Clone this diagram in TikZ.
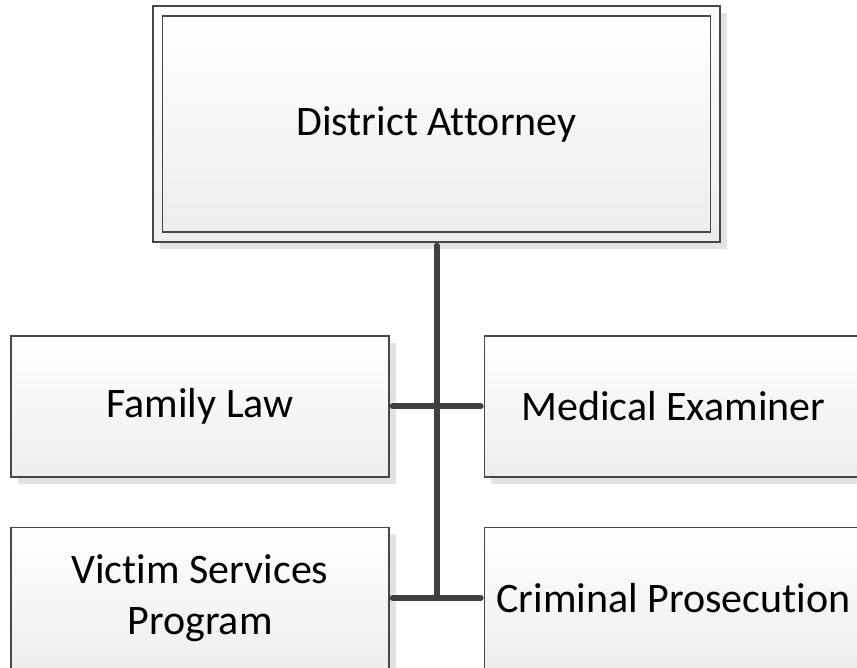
\documentclass[tikz,border=0pt]{standalone}
\usepackage{fontspec}
\setmainfont{Carlito}[Ligatures=CommonOff]
\usepackage{xcolor}
\usepackage{tikz}
\usetikzlibrary{positioning, shadows}
\definecolor{linkgray}{HTML}{404040}

\begin{document}
\begin{tikzpicture}[
    x=1pt, y=1pt,
    box/.style={draw=black!72, line width=1.4pt, top color=white, bottom color=black!7, minimum width=378pt, minimum height=141pt, inner sep=0pt, align=center, text=black, font=\fontsize{42}{51}\selectfont},
    shadebox/.style={box, drop shadow={shadow xshift=7pt, shadow yshift=-7pt, fill=black!11, opacity=1}},
    link/.style={line width=6pt, color=linkgray, line cap=round}
]
    \useasboundingbox (0,0) rectangle (857,668);

    % Head of office (double frame)
    \node[shadebox, minimum width=567pt, minimum height=236pt] (da) at (436.5,544) {};
    \node[box, minimum width=548pt, minimum height=216pt] (dainner) at (da.center) {District Attorney};

    % Divisions
    \node[shadebox] (family) at (200,261.5) {Family Law};
    \node[shadebox, right=94pt of family] (medical) {Medical Examiner};
    \node[shadebox, below=49pt of family] (victim) {Victim Services\\Program};
    \node[shadebox, right=94pt of victim] (criminal) {Criminal Prosecution};

    % Connections
    \draw[link, shorten <=3pt] (da.south) -- (da.south |- victim.east);
    \draw[link, shorten <=3pt, shorten >=3pt] (family.east) -- (medical.west);
    \draw[link, shorten <=3pt, shorten >=3pt] (victim.east) -- (criminal.west);
\end{tikzpicture}
\end{document}
